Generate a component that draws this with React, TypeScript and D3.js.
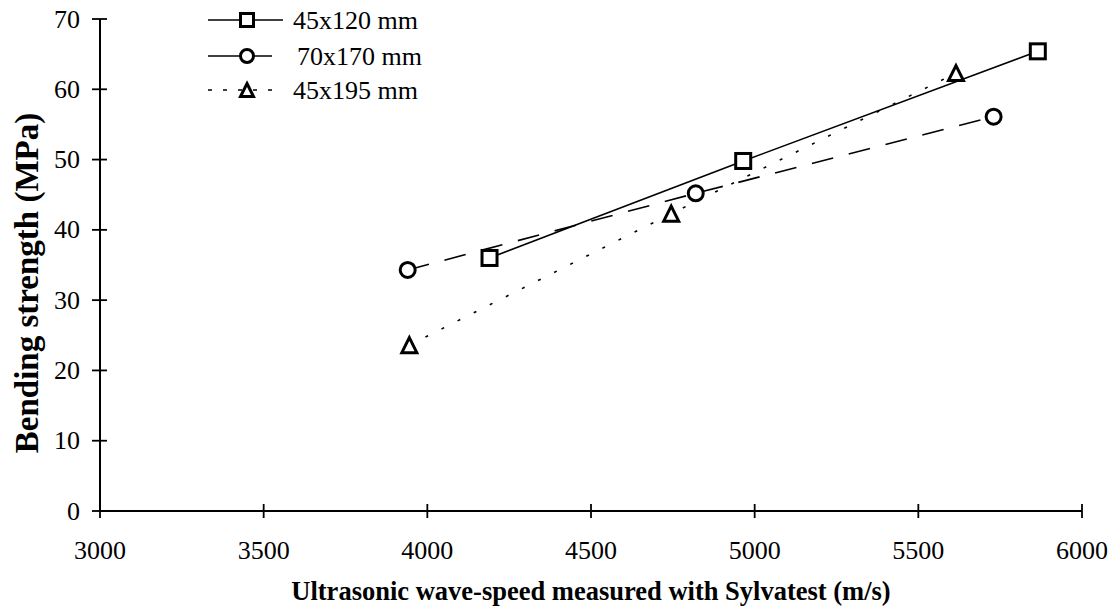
import React from "react";
import * as d3 from "d3";

const xTicks = [3000, 3500, 4000, 4500, 5000, 5500, 6000];
const yTicks = [0, 10, 20, 30, 40, 50, 60, 70];

const seriesNames = ["45x120 mm", "70x170 mm", "45x195 mm"];
const speed120 = [4190, 4965, 5865];
const mor120 = [36.0, 49.8, 65.4];
const speed170 = [3940, 4820, 5730];
const mor170 = [34.3, 45.2, 56.1];
const speed195 = [3945, 4745, 5615];
const mor195 = [23.6, 42.3, 62.3];

const xTitle = "Ultrasonic wave-speed measured with Sylvatest (m/s)";
const yTitle = "Bending strength (MPa)";

const W = 1118;
const H = 613;
const FONT = "'Liberation Serif', 'Times New Roman', serif";

export default function App() {
  const x = d3.scaleLinear().domain([3000, 6000]).range([100, 1082]);
  const y = d3.scaleLinear().domain([0, 70]).range([511, 19]);

  const series = [
    { name: seriesNames[0], xs: speed120, ys: mor120, marker: "square", dash: "none" },
    { name: seriesNames[1], xs: speed170, ys: mor170, marker: "circle", dash: "22,16" },
    { name: seriesNames[2], xs: speed195, ys: mor195, marker: "triangle", dash: "3,15" },
  ];

  const line = d3
    .line<[number, number]>()
    .x((d) => x(d[0]))
    .y((d) => y(d[1]));

  const marker = (type: string, cx: number, cy: number, s: number, key: string) => {
    if (type === "square") {
      return (
        <rect key={key} x={cx - s / 2} y={cy - s / 2} width={s} height={s} fill="#fff" stroke="#000" strokeWidth={3} />
      );
    }
    if (type === "circle") {
      return <circle key={key} cx={cx} cy={cy} r={s / 2} fill="#fff" stroke="#000" strokeWidth={3} />;
    }
    const h = s;
    const p = `M${cx},${cy - h / 2}L${cx + s / 2},${cy + h / 2}L${cx - s / 2},${cy + h / 2}Z`;
    return <path key={key} d={p} fill="#fff" stroke="#000" strokeWidth={3} strokeLinejoin="miter" />;
  };

  const legendY = [20, 56, 90];

  return (
    <div style={{ position: "fixed", left: 0, top: 0 }}>
      <svg width={W} height={H} style={{ display: "block", background: "#fff" }} fontFamily={FONT}>
        <rect x={0} y={0} width={W} height={H} fill="#fff" />
        {/* axes */}
        <line x1={x(3000)} x2={x(3000)} y1={y(70)} y2={y(0)} stroke="#000" strokeWidth={2} />
        <line x1={x(3000)} x2={x(6000)} y1={y(0)} y2={y(0)} stroke="#000" strokeWidth={2} />
        {yTicks.map((t) => (
          <g key={"y" + t}>
            <line x1={x(3000) - 8} x2={x(3000) + 7} y1={y(t)} y2={y(t)} stroke="#000" strokeWidth={1.8} />
            <text x={80} y={y(t)} textAnchor="end" dominantBaseline="central" fontSize={26}>
              {t}
            </text>
          </g>
        ))}
        {xTicks.map((t) => (
          <g key={"x" + t}>
            <line x1={x(t)} x2={x(t)} y1={y(0) - 7} y2={y(0) + 7} stroke="#000" strokeWidth={1.8} />
            <text x={x(t)} y={559} textAnchor="middle" fontSize={26}>
              {t}
            </text>
          </g>
        ))}
        <text x={591} y={600} textAnchor="middle" fontSize={26.5} fontWeight="bold">
          {xTitle}
        </text>
        <text
          transform={`translate(38,283) rotate(-90)`}
          textAnchor="middle"
          fontSize={33}
          fontWeight="bold"
        >
          {yTitle}
        </text>

        {/* series lines */}
        {series.map((s) => (
          <path
            key={"l" + s.name}
            d={line(s.xs.map((v, i) => [v, s.ys[i]] as [number, number])) || ""}
            fill="none"
            stroke="#000"
            strokeWidth={1.6}
            strokeDasharray={s.dash}
          />
        ))}
        {/* markers */}
        {series.map((s) =>
          s.xs.map((v, i) => marker(s.marker, x(v), y(s.ys[i]), 15, s.name + i))
        )}

        {/* legend */}
        {series.map((s, i) => (
          <g key={"lg" + s.name}>
            <line
              x1={208}
              x2={i === 1 ? 272 : 283}
              y1={legendY[i]}
              y2={legendY[i]}
              stroke="#000"
              strokeWidth={1.6}
              strokeDasharray={i === 2 ? "4,11" : "none"}
            />
            {marker(s.marker, 247, legendY[i], 13, "lm" + i)}
            <text x={i === 1 ? 297 : 293} y={legendY[i]} dominantBaseline="central" fontSize={26}>
              {s.name}
            </text>
          </g>
        ))}
      </svg>
    </div>
  );
}
